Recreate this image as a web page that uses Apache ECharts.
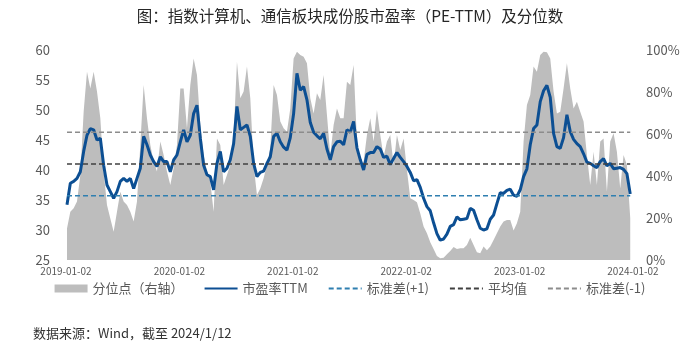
<!DOCTYPE html>
<html style="height: 100%">
<head>
    <meta charset="utf-8" />
    <title>市盈率及分位数</title>
    <script type="text/javascript" src="https://cdn.jsdelivr.net/npm/echarts@6/dist/echarts.min.js"></script>
</head>
<body style="height: 100%; margin: 0; background: #fff">
    <div id="container" style="width: 700px; height: 353px"></div>
</body>
</html>
<script type="text/javascript">
    // 读图得到的数据：约每10.75天一个点，从2019-01-05开始
    var pe = [
        34.2, 37.8, 38.1, 38.6, 39.7, 43.1, 45.8, 46.9, 46.7, 45.0,
        45.3, 40.8, 37.5, 36.4, 35.3, 36.4, 38.1, 38.6, 38.1, 38.6,
        36.9, 38.6, 40.3, 45.6, 44.2, 42.5, 41.4, 40.6, 42.2, 41.4,
        41.4, 39.7, 41.7, 42.5, 44.7, 46.7, 44.7, 45.8, 49.4, 50.8,
        45.3, 40.8, 39.2, 38.9, 36.7, 41.1, 43.1, 39.7, 40.3, 41.7,
        44.4, 50.6, 46.7, 47.1, 47.5, 45.6, 41.1, 38.9, 39.6, 39.8,
        41.1, 42.2, 45.6, 46.1, 44.7, 43.8, 43.3, 45.4, 49.4, 56.1,
        53.3, 53.9, 51.7, 47.9, 46.3, 45.7, 45.2, 46.1, 43.5, 41.7,
        43.9, 44.7, 44.8, 44.2, 46.7, 46.3, 48.1, 43.7, 41.7, 40.0,
        42.6, 42.9, 42.9, 43.9, 43.5, 42.1, 42.3, 40.9, 41.9, 42.9,
        42.1, 41.4, 40.6, 39.6, 38.2, 38.4, 37.1, 35.3, 33.9, 33.2,
        31.2, 29.4, 28.3, 28.5, 29.3, 30.6, 30.9, 32.2, 31.7, 31.8,
        31.9, 33.6, 33.3, 31.7, 30.3, 30.0, 30.2, 31.8, 32.5, 34.4,
        36.2, 36.1, 36.6, 36.8, 35.8, 35.6, 36.7, 38.9, 40.2, 44.2,
        46.9, 47.5, 51.4, 53.2, 54.1, 52.1, 46.1, 43.9, 43.6, 45.4,
        49.2, 46.4, 45.1, 44.4, 43.9, 42.7, 41.3, 41.1, 40.7, 40.4,
        41.4, 41.9, 40.7, 41.1, 40.2, 40.3, 40.4, 40.1, 39.4, 36.0
    ];
    var pct = [
        15.0, 23.0, 24.6, 27.8, 40.5, 70.6, 89.7, 81.7, 89.7, 80.2,
        67.5, 42.1, 26.2, 19.8, 13.5, 23.0, 32.5, 27.8, 26.2, 23.0,
        18.3, 27.8, 54.8, 83.3, 67.5, 54.8, 46.8, 42.1, 56.4, 50.0,
        42.1, 35.7, 43.7, 54.8, 81.7, 81.7, 62.7, 83.3, 96.0, 88.1,
        64.3, 50.0, 42.1, 37.3, 23.0, 57.9, 54.8, 35.7, 40.5, 45.2,
        59.5, 94.4, 77.0, 80.2, 92.1, 77.0, 45.2, 31.0, 34.1, 38.9,
        45.2, 53.2, 83.3, 78.6, 65.9, 62.7, 61.1, 72.2, 96.0, 99.2,
        97.6, 96.8, 93.7, 77.0, 69.8, 79.4, 76.2, 88.1, 69.0, 50.0,
        64.3, 72.2, 67.5, 67.5, 84.9, 83.3, 92.9, 56.4, 45.2, 46.8,
        59.5, 67.5, 56.4, 71.4, 59.5, 49.2, 56.4, 59.5, 45.2, 59.5,
        52.4, 57.9, 42.9, 29.4, 28.6, 27.5, 22.2, 15.9, 12.7, 8.4,
        5.2, 1.9, 0.8, 1.1, 2.7, 4.3, 6.2, 5.2, 5.6, 5.6,
        7.1, 10.6, 7.1, 3.7, 3.2, 6.4, 4.6, 6.4, 9.5, 12.7,
        15.9, 18.3, 19.0, 19.0, 14.1, 17.5, 23.0, 56.4, 73.8, 78.6,
        92.1, 89.7, 97.6, 99.2, 98.9, 96.0, 80.2, 69.8, 70.6, 81.7,
        93.7, 81.7, 72.2, 75.4, 70.6, 65.9, 50.0, 35.7, 51.6, 35.7,
        56.4, 57.9, 32.5, 56.4, 60.3, 51.6, 34.1, 50.0, 45.2, 20.0
    ];
    var stdPlus = 35.7;   // 标准差(+1)
    var avg = 41.0;       // 平均值
    var stdMinus = 46.3;  // 标准差(-1)
    var xLabels = ['2019-01-02', '2020-01-02', '2021-01-02', '2022-01-02', '2023-01-02', '2024-01-02'];

    // x轴：距2019-01-02的天数
    var days = [];
    for (var i = 0; i < pe.length; i++) {
        days.push(3.2 + i * 10.735);
    }
    var lastDay = days[days.length - 1];

    function pair(arr) {
        return arr.map(function (v, i) { return [days[i], v]; });
    }
    function flat(v) {
        return [[days[0], v], [lastDay, v]];
    }

    var font = 'Noto Sans CJK SC';
    var noDot = { opacity: 0 };
    var myChart = echarts.init(document.getElementById('container'));
    var option = {
        animation: false,
        title: {
            text: '图：指数计算机、通信板块成份股市盈率（PE-TTM）及分位数',
            left: 'center',
            top: 3,
            textStyle: { fontFamily: font, fontSize: 15.5, fontWeight: 'normal', color: '#262626' }
        },
        grid: { left: 66, right: 64, top: 50, bottom: 93 },
        legend: {
            top: 277,
            left: 'center',
            itemWidth: 33,
            itemHeight: 8,
            itemGap: 20,
            textStyle: { fontFamily: font, fontSize: 13, color: '#595959' },
            data: [
                { name: '分位点（右轴）', icon: 'rect' },
                { name: '市盈率TTM', itemStyle: noDot },
                { name: '标准差(+1)', itemStyle: noDot },
                { name: '平均值', itemStyle: noDot },
                { name: '标准差(-1)', itemStyle: noDot }
            ]
        },
        graphic: [{
            type: 'text',
            left: 33,
            top: 327,
            style: { text: '数据来源：Wind，截至 2024/1/12', font: '13px "Noto Sans CJK SC"', fill: '#333' }
        }],
        xAxis: {
            type: 'value',
            min: 0,
            max: 1836,
            interval: 365.25,
            axisLine: { show: false },
            axisTick: { show: false },
            splitLine: { show: false },
            axisLabel: {
                fontFamily: font,
                fontSize: 10,
                color: '#595959',
                margin: 6,
                formatter: function (v) {
                    if (v > 1830) return '';
                    return xLabels[Math.round(v / 365.25)];
                }
            }
        },
        yAxis: [{
            type: 'value',
            min: 25,
            max: 60,
            interval: 5,
            axisLine: { show: false },
            axisTick: { show: false },
            splitLine: { show: false },
            axisLabel: { fontFamily: font, fontSize: 13, color: '#595959', margin: 16 }
        }, {
            type: 'value',
            min: 0,
            max: 100,
            interval: 20,
            axisLine: { show: false },
            axisTick: { show: false },
            splitLine: { show: false },
            axisLabel: { fontFamily: font, fontSize: 13, color: '#595959', margin: 10, formatter: '{value}%' }
        }],
        series: [{
            name: '分位点（右轴）',
            type: 'line',
            yAxisIndex: 1,
            data: pair(pct),
            symbol: 'none',
            color: '#bdbdbd',
            lineStyle: { width: 0 },
            areaStyle: { color: '#bdbdbd', opacity: 1 }
        }, {
            name: '市盈率TTM',
            type: 'line',
            data: pair(pe),
            symbol: 'none',
            color: '#0c4f93',
            lineStyle: { width: 3, color: '#0c4f93' }
        }, {
            name: '标准差(+1)',
            type: 'line',
            data: flat(stdPlus),
            symbol: 'none',
            color: '#2f7fb0',
            lineStyle: { width: 1.5, type: [5, 3], color: '#2f7fb0' }
        }, {
            name: '平均值',
            type: 'line',
            data: flat(avg),
            symbol: 'none',
            color: '#404040',
            lineStyle: { width: 1.5, type: [5, 3], color: '#404040' }
        }, {
            name: '标准差(-1)',
            type: 'line',
            data: flat(stdMinus),
            symbol: 'none',
            color: '#8c8c8c',
            lineStyle: { width: 1.5, type: [5, 3], color: '#8c8c8c' }
        }]
    };
    myChart.setOption(option);
</script>
